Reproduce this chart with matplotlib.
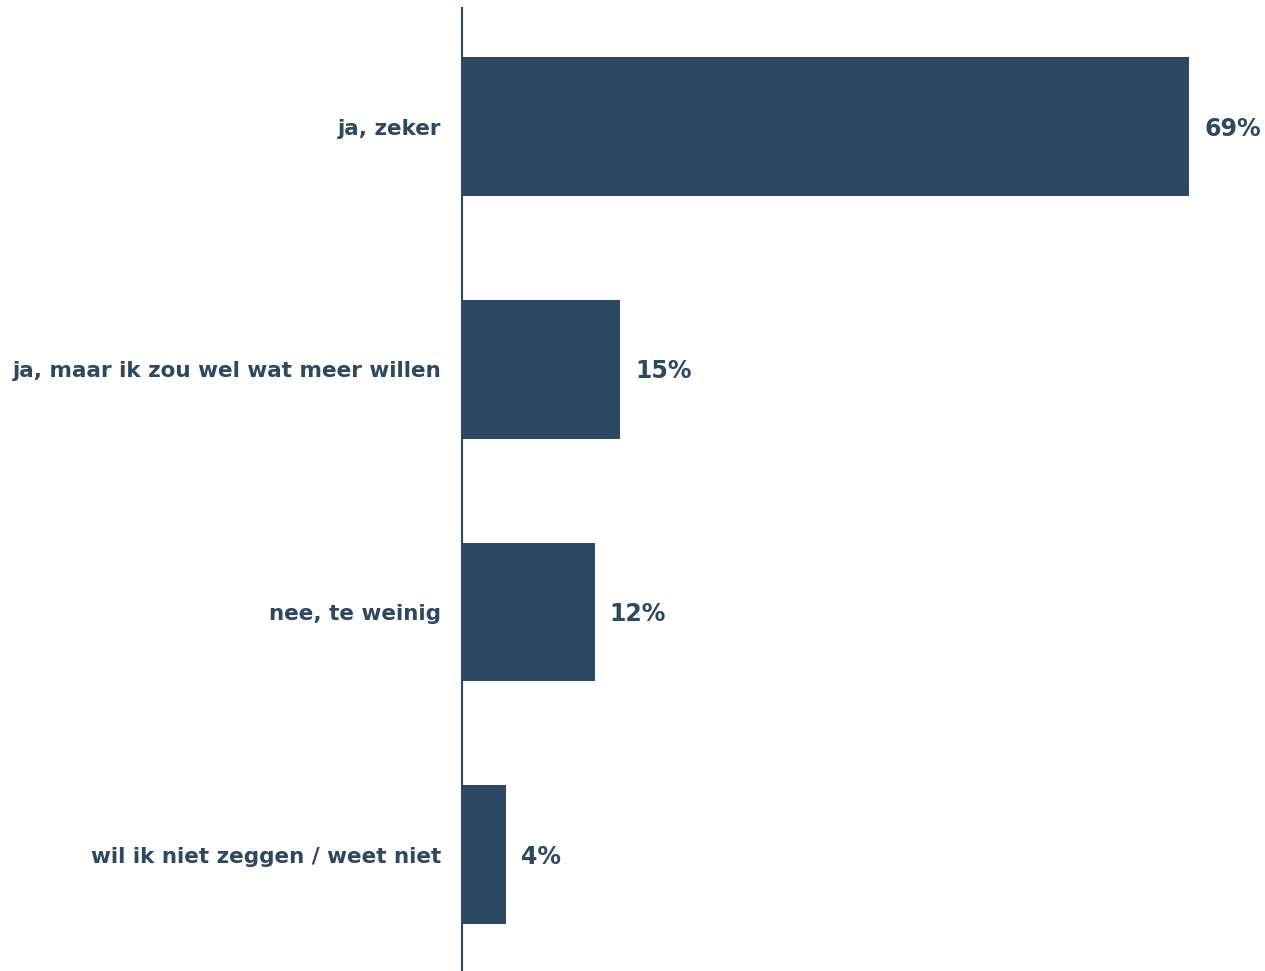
import matplotlib
matplotlib.use('Agg')
import matplotlib.pyplot as plt

categories = ['ja, zeker', 'ja, maar ik zou wel wat meer willen',
              'nee, te weinig', 'wil ik niet zeggen / weet niet']
values = [69, 15, 12.6, 4.2]
value_labels = ['69%', '15%', '12%', '4%']

color = '#2d4862'

fig = plt.figure(figsize=(12.65, 9.71), dpi=100)
ax = fig.add_axes([462 / 1265, 0, 1 - 462 / 1265, 1 - 8 / 971])

pos = list(range(len(categories)))
ax.barh(pos, values, height=0.573, color=color)

for p, v, lab in zip(pos, values, value_labels):
    ax.annotate(lab, (v, p), xytext=(15, -2), textcoords='offset pixels',
                va='center', ha='left', fontsize=17, fontweight='bold',
                color=color)

ax.set_yticks(pos)
ax.set_yticklabels(categories, fontsize=15.5, fontweight='bold', color=color)
ax.tick_params(axis='y', length=0, pad=15)
ax.set_xticks([])
ax.set_xlim(0, 76.2)
ax.set_ylim(3.48, -0.49)

for side in ['top', 'right', 'bottom']:
    ax.spines[side].set_visible(False)
ax.spines['left'].set_color(color)
ax.spines['left'].set_linewidth(1.5)

fig.savefig('out.png', dpi=100)
